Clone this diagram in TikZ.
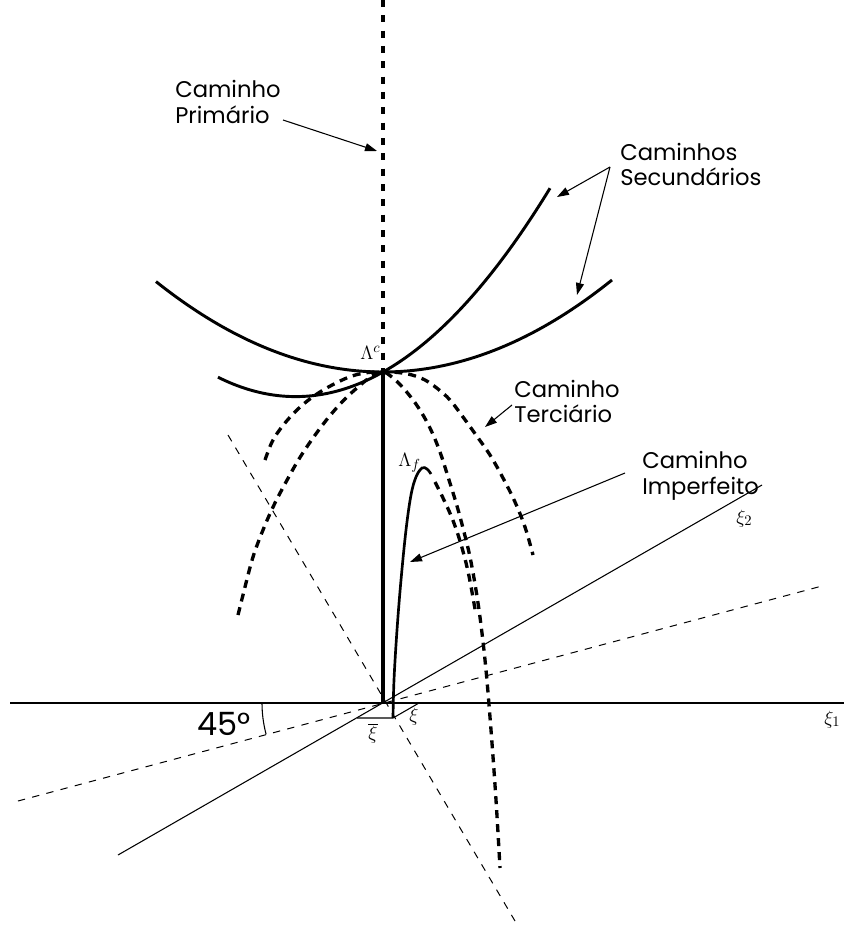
\documentclass[tikz,border=0pt]{standalone}
\usepackage{fontspec}
\setmainfont{Poppins}
\usetikzlibrary{arrows.meta}
\begin{document}
\begin{tikzpicture}[x=0.75pt,y=-0.75pt,
  thinline/.style={line width=0.8pt},
  thindash/.style={line width=0.75pt, dash pattern=on 5.5pt off 5.5pt},
  secpath/.style={line width=2.2pt},
  terpath/.style={line width=2.5pt, dash pattern=on 6pt off 4.5pt},
  lbl/.style={font=\fontsize{17}{19}\selectfont, anchor=base west, inner sep=0pt},
  ptr/.style={line width=0.8pt, -{Triangle[length=9pt,width=6pt]}},
  mlab/.style={font=\fontsize{15}{17}\selectfont, inner sep=0pt}
]
\useasboundingbox (0,0) rectangle (844,931);
% key points
\coordinate (O) at (383,703);
\coordinate (Lc) at (383,372);
\coordinate (top) at (383,0);
\coordinate (axL) at (10,703);
\coordinate (axR) at (844,703);
\coordinate (x2a) at (118,855);
\coordinate (x2b) at (762,485);
\coordinate (d15a) at (18,801);
\coordinate (d15b) at (822,586);
\coordinate (d60a) at (228,435);
\coordinate (d60b) at (515,921);
\coordinate (pA) at (357,718);
\coordinate (pB) at (393,718);
\coordinate (pC) at (419,703);
% axes and reference lines
\draw[thinline] (axL) -- (axR);
\draw[thinline] (x2a) -- (x2b);
\draw[thindash] (d15a) -- (d15b);
\draw[thindash] (d60a) -- (d60b);
\draw[thinline] (262,703) arc[start angle=180, end angle=165, radius=121];
\draw[thinline] (pA) -- (pB) -- (pC);
% primary path
\draw[line width=3pt, dash pattern=on 5.25pt off 6.25pt] (top) -- (Lc);
\draw[line width=3.6pt] (Lc) -- (O);
% secondary paths
\draw[secpath] plot[domain=-227:229, samples=90] ({383+\x},{372-0.00175*(\x)*(\x)});
\draw[secpath] plot[domain=-165:167, samples=90] ({383+\x},{372-0.5628*(\x)-0.003227*(\x)*(\x)});
% tertiary paths
\draw[terpath] plot[smooth, tension=0.6] coordinates {(265,460) (272,442) (281,428) (293,414) (306,402) (320,392) (336,383) (352,376) (368,372.5) (383,372) (398,372.5) (412,375) (425,380) (438,389) (450,400) (463,417) (476,435) (490,455) (503,478) (515,502) (525,527) (533,555)};
\draw[terpath] plot[smooth, tension=0.6] coordinates {(238,615) (245,587) (253,557) (263,530) (274,505) (286,482) (299,459) (313,438) (328,418) (343,401) (358,387) (372,376) (383,372) (393,378) (405,390) (418,407) (430,428) (440,452) (449,480) (457,506) (464,532) (470,557) (476,590) (481,625) (486,670) (491,730) (496,800) (500,868)};
% imperfect path
\draw[line width=2pt] plot[smooth, tension=0.6] coordinates {(pB) (394,680) (397,630) (401,580) (406,530) (411,495) (416,477) (422,468) (427,469) (431,474)};
\draw[terpath] plot[smooth, tension=0.6] coordinates {(435,482) (443,498) (452,518) (460,541) (467,567) (472,592) (476,615)};
% labels
\node[lbl] (pc1) at (175,98) {Caminho};
\node[lbl] (pc2) at (175,123) {Primário};
\node[lbl] (sc1) at (620,160) {Caminhos};
\node[lbl] (sc2) at (620,185) {Secundários};
\node[lbl] (tc1) at (514,397) {Caminho};
\node[lbl] (tc2) at (514,422) {Terciário};
\node[lbl] (ic1) at (642,468) {Caminho};
\node[lbl] (ic2) at (642,494) {Imperfeito};
\node[lbl, font=\fontsize{24}{26}\selectfont] (ang) at (197,735) {45°};
% arrows
\coordinate (ap1) at (283,120);
\coordinate (tp1) at (377,151);
\draw[ptr] (ap1) -- (tp1);
\coordinate (ap2) at (610,167);
\coordinate (tp2a) at (557,197);
\coordinate (tp2b) at (577,295);
\draw[ptr] (ap2) -- (tp2a);
\draw[ptr] (ap2) -- (tp2b);
\coordinate (ap3) at (512,405);
\coordinate (tp3) at (485,427);
\draw[ptr] (ap3) -- (tp3);
\coordinate (ap4) at (625,473);
\coordinate (tp4) at (410,562);
\draw[ptr] (ap4) -- (tp4);
% math labels
\node[mlab, anchor=base west] (lamc) at (360,359) {$\Lambda^{c}$};
\node[mlab, anchor=base west] (lamf) at (398,466) {$\Lambda_{f}$};
\node[mlab, anchor=base west] (xi1) at (824,724) {$\xi_{1}$};
\node[mlab, anchor=base west] (xi2) at (736,523) {$\xi_{2}$};
\node[mlab, anchor=north] (xibar) at (373,723) {$\overline{\xi}$};
\node[mlab] (xi) at (414,717) {$\xi$};
\end{tikzpicture}
\end{document}
